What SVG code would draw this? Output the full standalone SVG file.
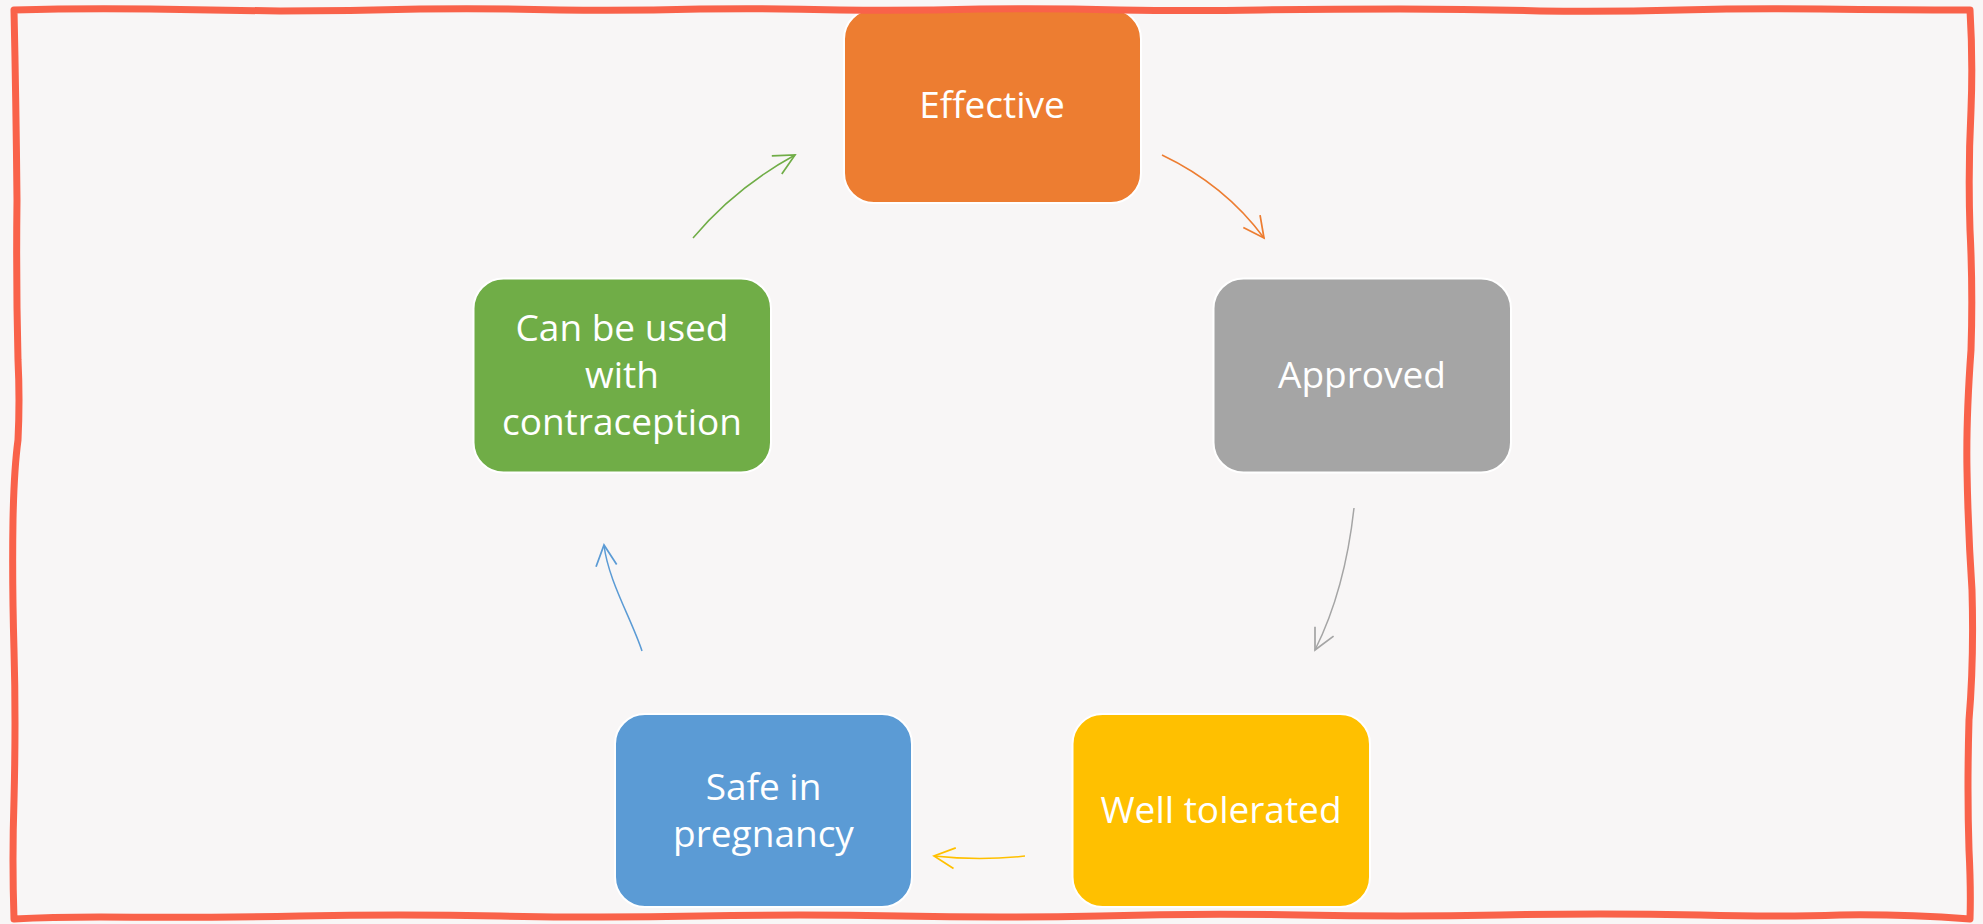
<svg xmlns="http://www.w3.org/2000/svg" width="1983" height="924" viewBox="0 0 1983 924">
  <style>
    .box { stroke: #ffffff; stroke-width: 2; }
    .lbl { font-family: "Open Sans", "Noto Sans", sans-serif; font-size: 37px; fill: #ffffff; text-anchor: middle; }
    .conn { fill: none; stroke-width: 1.5; }
  </style>
  <defs>
    <marker id="mOrange" markerUnits="userSpaceOnUse" markerWidth="30" markerHeight="30" viewBox="-22 -12 26 24" refX="0" refY="0" orient="auto">
      <path d="M-18,-9 L0,0 L-18,9" fill="none" stroke="#ED7D31" stroke-width="1.5"/>
    </marker>
    <marker id="mGray" markerUnits="userSpaceOnUse" markerWidth="30" markerHeight="30" viewBox="-22 -12 26 24" refX="0" refY="0" orient="auto">
      <path d="M-18,-9 L0,0 L-18,9" fill="none" stroke="#A5A5A5" stroke-width="1.5"/>
    </marker>
    <marker id="mYellow" markerUnits="userSpaceOnUse" markerWidth="30" markerHeight="30" viewBox="-22 -12 26 24" refX="0" refY="0" orient="auto">
      <path d="M-18,-9 L0,0 L-18,9" fill="none" stroke="#FFC000" stroke-width="1.5"/>
    </marker>
    <marker id="mBlue" markerUnits="userSpaceOnUse" markerWidth="30" markerHeight="30" viewBox="-22 -12 26 24" refX="0" refY="0" orient="auto">
      <path d="M-18,-9 L0,0 L-18,9" fill="none" stroke="#5B9BD5" stroke-width="1.5"/>
    </marker>
    <marker id="mGreen" markerUnits="userSpaceOnUse" markerWidth="30" markerHeight="30" viewBox="-22 -12 26 24" refX="0" refY="0" orient="auto">
      <path d="M-18,-9 L0,0 L-18,9" fill="none" stroke="#70AD47" stroke-width="1.5"/>
    </marker>
  </defs>
  <rect x="0" y="0" width="1983" height="924" fill="#F8F6F6"/>

  <g id="connectors">
    <path class="conn" stroke="#ED7D31" marker-end="url(#mOrange)" d="M1162,155 Q1225,185 1264,238"/>
    <path class="conn" stroke="#A5A5A5" marker-end="url(#mGray)" d="M1354,508 Q1345,590 1315,650"/>
    <path class="conn" stroke="#FFC000" marker-end="url(#mYellow)" d="M1025,856 Q980,861 934,856"/>
    <path class="conn" stroke="#5B9BD5" marker-end="url(#mBlue)" d="M642,651 C632,620 608,580 604,545"/>
    <path class="conn" stroke="#70AD47" marker-end="url(#mGreen)" d="M693,238 Q735,188 795,155"/>
  </g>

  <g id="node-effective">
    <rect class="box" x="844" y="9" width="297" height="194" rx="30" fill="#ED7D31"/>
    <text class="lbl" x="992" y="118">Effective</text>
  </g>
  <g id="node-approved">
    <rect class="box" x="1213.5" y="278.5" width="297.5" height="194" rx="30" fill="#A5A5A5"/>
    <text class="lbl" x="1362" y="388">Approved</text>
  </g>
  <g id="node-well-tolerated">
    <rect class="box" x="1072.5" y="714" width="297.5" height="193" rx="30" fill="#FFC000"/>
    <text class="lbl" x="1221" y="822.5">Well tolerated</text>
  </g>
  <g id="node-safe-in-pregnancy">
    <rect class="box" x="615" y="714" width="297" height="193" rx="30" fill="#5B9BD5"/>
    <text class="lbl" x="763.5" y="800">Safe in</text>
    <text class="lbl" x="763.5" y="846.5">pregnancy</text>
  </g>
  <g id="node-contraception">
    <rect class="box" x="473.5" y="278.5" width="297.5" height="194" rx="30" fill="#70AD47"/>
    <text class="lbl" x="622" y="340.5">Can be used</text>
    <text class="lbl" x="622" y="388">with</text>
    <text class="lbl" x="622" y="435">contraception</text>
  </g>

  <g id="frame">
    <path fill="none" stroke="#F9624A" stroke-width="7" stroke-linejoin="round" stroke-linecap="round"
      d="M14,10
         Q80,8 150,9 Q215,10 280,11 Q350,11 420,9 Q490,8 560,10 Q630,11 700,9 Q770,8 840,10 Q910,11 980,9 Q1050,8 1120,10 Q1190,11 1260,10 Q1330,9 1400,9 Q1470,9 1540,11 Q1610,12 1680,10 Q1750,8 1820,9 Q1900,10 1970,10
         Q1973,60 1971,110 Q1968,170 1970,230 Q1973,290 1971,350 Q1966,420 1967,470 Q1968,530 1972,590 Q1974,660 1969,720 Q1967,790 1969,850 Q1971,890 1970,919
         Q1900,914 1840,915 Q1780,917 1700,915 Q1600,913 1500,915 Q1400,917 1300,915 Q1200,913 1100,916 Q1000,918 900,916 Q800,914 700,916 Q600,918 500,916 Q400,914 300,916 Q200,918 100,917 Q50,917 14,919
         Q12,860 14,800 Q16,720 14,650 Q12,580 13,520 Q14,470 18,440 Q20,400 18,360 Q16,280 17,200 Q16,100 14,10 Z"/>
  </g>
</svg>
